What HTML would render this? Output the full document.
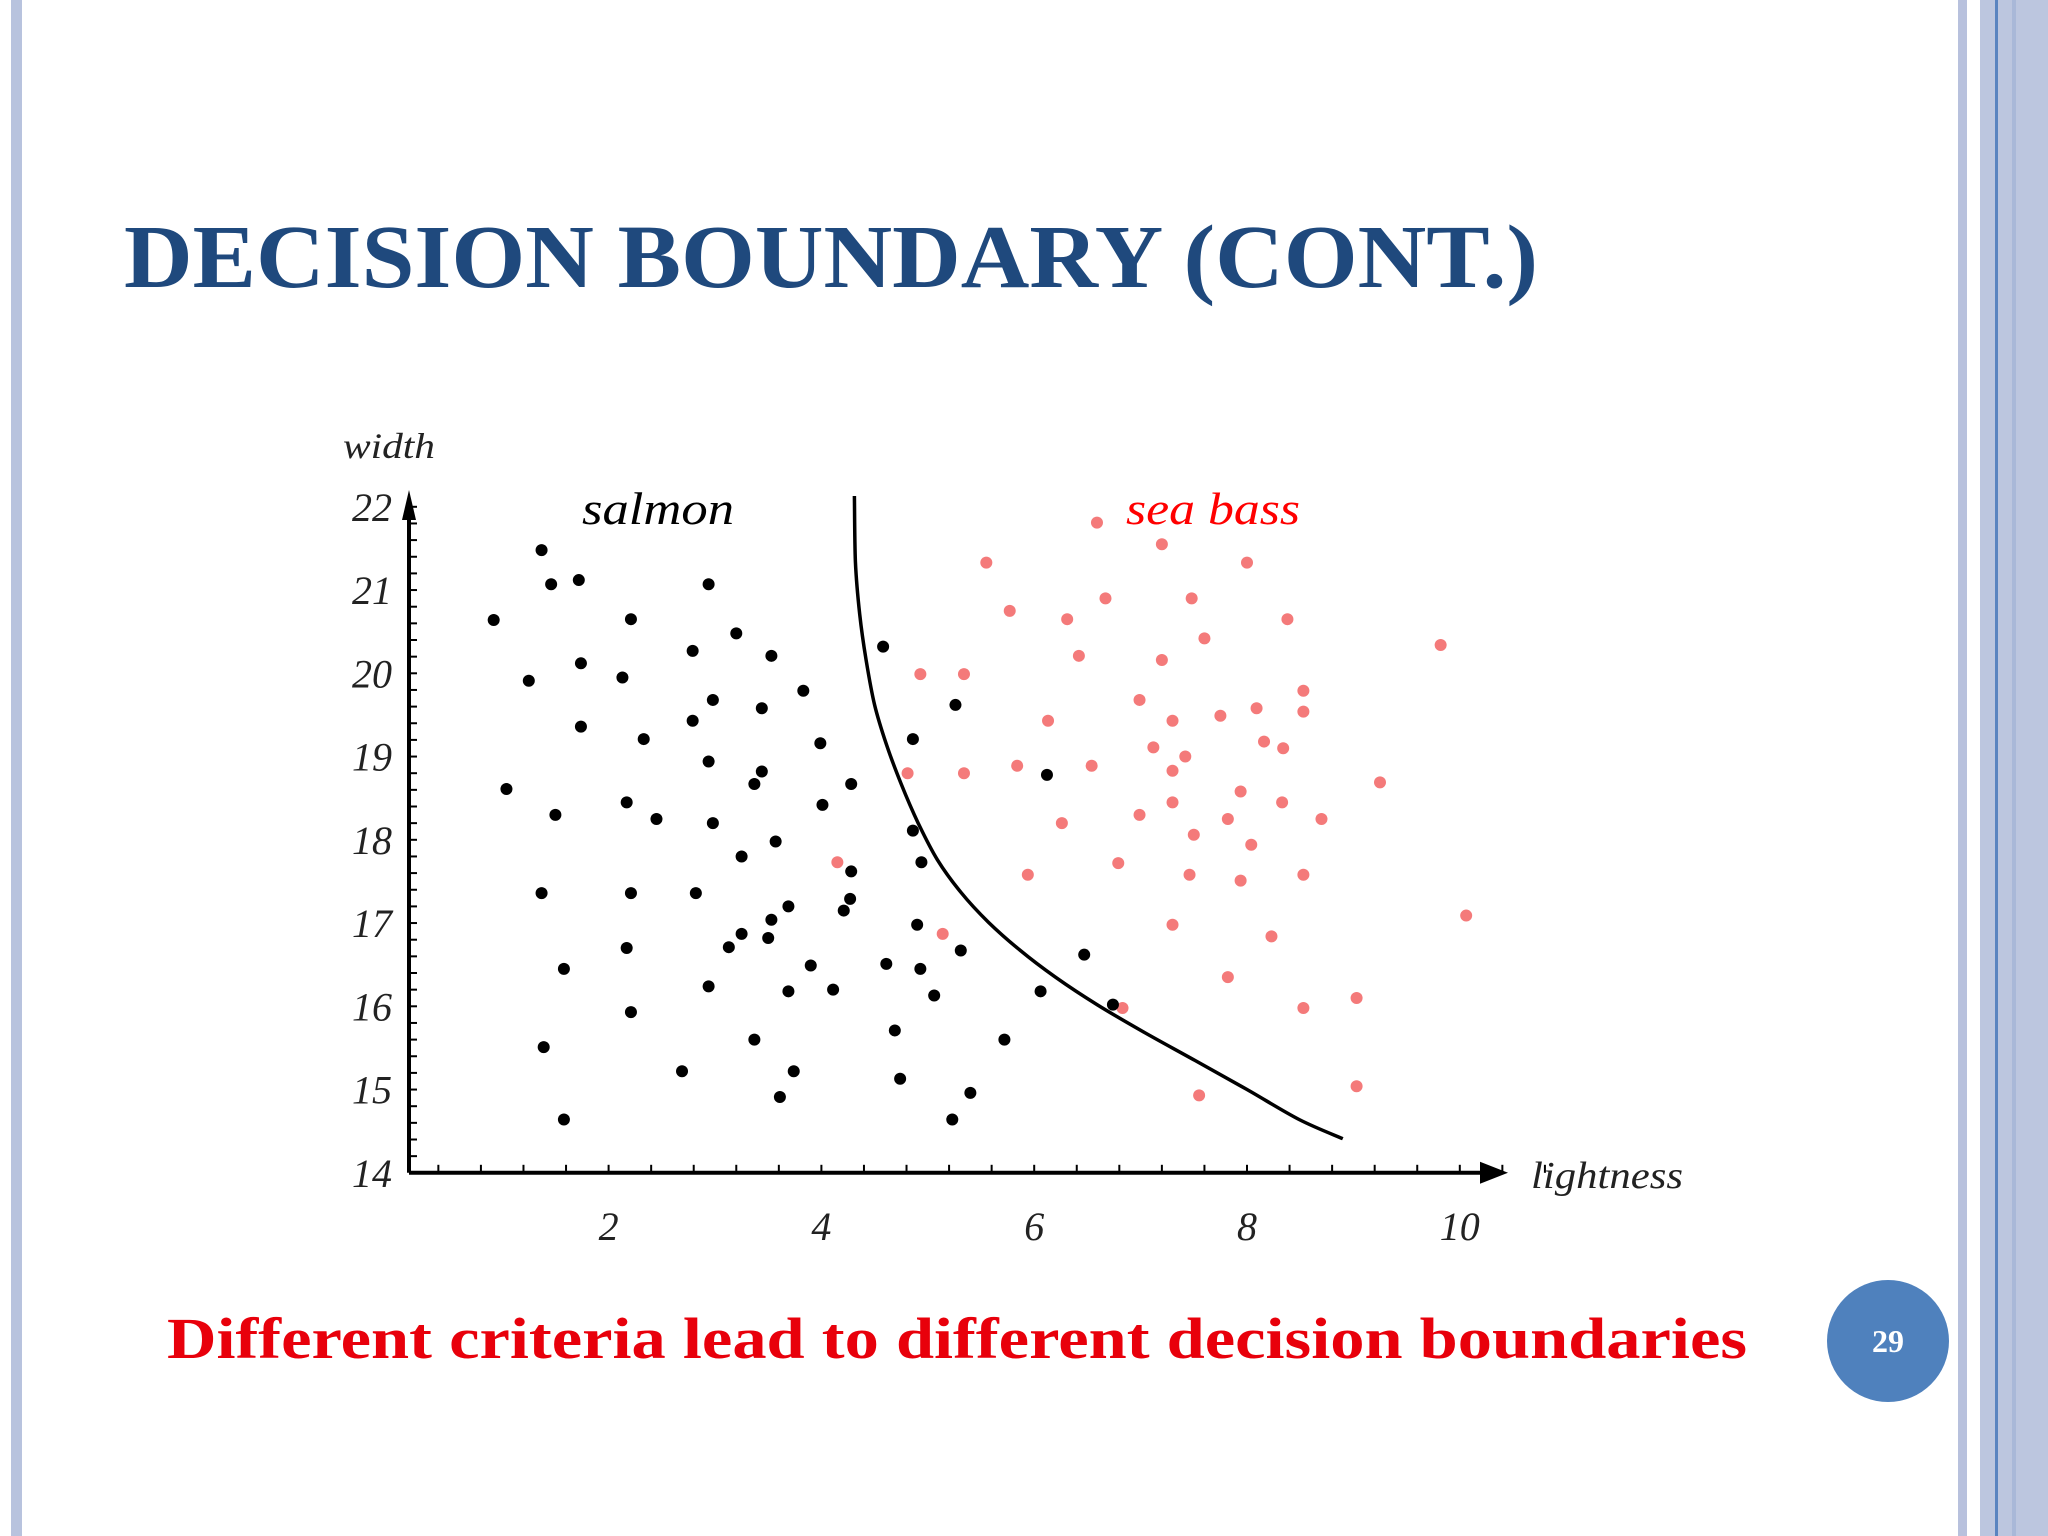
<!DOCTYPE html>
<html><head><meta charset="utf-8"><style>
html,body{margin:0;padding:0;background:#fff}
svg{display:block}
</style></head><body>
<svg id="slide" width="2048" height="1536" viewBox="0 0 2048 1536" xmlns="http://www.w3.org/2000/svg">
<rect x="0" y="0" width="2048" height="1536" fill="#fff"/>
<rect x="11" y="0" width="11" height="1536" fill="#b8c3de"/>
<rect x="1958" y="0" width="9" height="1536" fill="#b8c1dd"/>
<rect x="1980" y="0" width="68" height="1536" fill="#bcc6df"/>
<rect x="1995" y="0" width="3" height="1536" fill="#5a84c0"/>
<rect x="2012" y="0" width="4" height="1536" fill="#a9b8d8"/>
<text x="124" y="287" font-family="Liberation Serif, serif" font-weight="bold" font-size="90" fill="#1f497d" textLength="1414" lengthAdjust="spacingAndGlyphs">DECISION BOUNDARY (CONT.)</text>
<g id="chart"></g>
<text x="167" y="1358" font-family="Liberation Serif, serif" font-weight="bold" font-size="58" fill="#e8000b" textLength="1580" lengthAdjust="spacingAndGlyphs">Different criteria lead to different decision boundaries</text>
<circle cx="1888" cy="1341" r="61" fill="#4f81bd"/>
<text x="1888" y="1352" text-anchor="middle" font-family="Liberation Serif, serif" font-weight="bold" font-size="32" fill="#fff">29</text>
</svg>
<script>
const salmonX=[1.37,1.46,1.72,0.92,2.21,1.25,1.74,2.13,2.79,3.20,3.53,2.94,2.98,2.79,3.44,3.83,1.74,2.33,2.94,3.44,3.37,3.99,1.04,2.17,2.45,2.98,4.01,4.28,1.50,3.57,3.25,1.37,2.21,2.82,4.28,4.21,4.27,2.17,3.13,3.25,3.50,3.53,3.69,1.58,2.94,3.90,3.69,4.11,4.61,4.93,5.06,4.58,4.86,5.26,4.86,4.94,4.90,5.31,2.21,3.37,1.39,2.69,3.74,3.61,4.69,4.74,5.40,5.23,1.58,5.72,6.06,6.12,6.47,6.74];
const salmonY=[21.48,21.07,21.12,20.64,20.65,19.91,20.12,19.95,20.27,20.48,20.21,21.07,19.68,19.43,19.58,19.79,19.36,19.21,18.94,18.82,18.67,19.16,18.61,18.45,18.25,18.20,18.42,18.67,18.30,17.98,17.80,17.36,17.36,17.36,17.62,17.15,17.29,16.70,16.71,16.87,16.82,17.04,17.20,16.45,16.24,16.49,16.18,16.20,16.51,16.45,16.13,20.32,19.21,19.62,18.11,17.73,16.98,16.67,15.93,15.60,15.51,15.22,15.22,14.91,15.71,15.13,14.96,14.64,14.64,15.60,16.18,18.78,16.62,16.02];
const bassX=[6.59,5.55,7.20,8.00,5.77,6.31,6.67,7.48,8.38,7.60,6.42,7.20,9.82,4.93,5.34,8.53,6.99,6.13,7.30,7.75,8.09,8.53,8.16,8.34,7.12,7.42,7.30,5.84,6.54,5.34,4.81,9.25,7.94,6.26,7.30,8.33,6.99,7.82,8.70,7.50,8.04,4.15,5.94,6.79,7.46,7.94,8.53,7.30,8.23,5.14,10.06,7.82,6.83,8.53,9.03,9.03,7.55];
const bassY=[21.81,21.33,21.55,21.33,20.75,20.65,20.90,20.90,20.65,20.42,20.21,20.16,20.34,19.99,19.99,19.79,19.68,19.43,19.43,19.49,19.58,19.54,19.18,19.10,19.11,19.00,18.83,18.89,18.89,18.80,18.80,18.69,18.58,18.20,18.45,18.45,18.30,18.25,18.25,18.06,17.94,17.73,17.58,17.72,17.58,17.51,17.58,16.98,16.84,16.87,17.09,16.35,15.98,15.98,16.10,15.04,14.93];
const boundaryX=[4.31,4.32,4.36,4.42,4.50,4.61,4.75,4.91,5.09,5.31,5.57,5.87,6.20,6.59,7.03,7.51,8.00,8.49,8.90];
const boundaryY=[22.13,21.34,20.71,20.16,19.62,19.15,18.67,18.20,17.76,17.37,17.01,16.67,16.35,16.02,15.69,15.35,15.00,14.64,14.41];
const xTickLabels=[2,4,6,8,10];
const yTickLabels=[14,15,16,17,18,19,20,21,22];

const NS='http://www.w3.org/2000/svg';
const g=document.getElementById('chart');
function X(v){return 395.8+v*106.4;}
function Y(v){return 506.8+(22-v)*83.25;}
function mk(tag,attrs){const e=document.createElementNS(NS,tag);for(const k in attrs)e.setAttribute(k,attrs[k]);g.appendChild(e);return e;}
const axisX=409, axisY=Y(14);
let e=mk('line',{x1:axisX,y1:axisY,x2:1490,y2:axisY,stroke:'#000','stroke-width':4});


e=mk('polygon',{points:`1480,${axisY-11} 1508,${axisY} 1480,${axisY+11}`,fill:'#000'});


e=mk('line',{x1:axisX,y1:axisY,x2:axisX,y2:505,stroke:'#000','stroke-width':4});


e=mk('polygon',{points:`${axisX-7},${520} ${axisX},${490} ${axisX+7},${520}`,fill:'#000'});


for(let v=0.4;v<10.9;v+=0.4){
  e=mk('line',{x1:X(v),y1:axisY,x2:X(v),y2:axisY-8,stroke:'#000','stroke-width':2});
  
  
}
for(let v=14.2;v<22.01;v+=0.2){
  e=mk('line',{x1:axisX,y1:Y(v),x2:axisX+8,y2:Y(v),stroke:'#000','stroke-width':2});
  
  
}
const tf='Liberation Serif, serif';
xTickLabels.forEach(v=>{
  const t=mk('text',{x:X(v),y:1240,'text-anchor':'middle','font-family':tf,'font-style':'italic','font-size':40,fill:'#222'});
  t.textContent=v;
  
  
});
yTickLabels.forEach(v=>{
  const t=mk('text',{x:392,y:Y(v)+14,'text-anchor':'end','font-family':tf,'font-style':'italic','font-size':40,fill:'#222'});
  t.textContent=v;
  
  
});
let t=mk('text',{x:343,y:458,'font-family':tf,'font-style':'italic','font-size':36,fill:'#222',textLength:92,lengthAdjust:'spacingAndGlyphs'});
t.textContent='width';


t=mk('text',{x:1531,y:1188,'font-family':tf,'font-style':'italic','font-size':38,fill:'#222',textLength:152,lengthAdjust:'spacingAndGlyphs'});
t.textContent='lightness';


t=mk('text',{x:582,y:524,'font-family':tf,'font-style':'italic','font-size':46,fill:'#000',textLength:152,lengthAdjust:'spacingAndGlyphs'});
t.textContent='salmon';


t=mk('text',{x:1126,y:524,'font-family':tf,'font-style':'italic','font-size':46,fill:'#f00',textLength:174,lengthAdjust:'spacingAndGlyphs'});
t.textContent='sea bass';


const P=boundaryX.map((v,i)=>[X(v),Y(boundaryY[i])]);
let d='M'+P[0][0].toFixed(1)+','+P[0][1].toFixed(1);
for(let i=0;i<P.length-1;i++){
  const p0=P[Math.max(i-1,0)],p1=P[i],p2=P[i+1],p3=P[Math.min(i+2,P.length-1)];
  const c1=[p1[0]+(p2[0]-p0[0])/6,p1[1]+(p2[1]-p0[1])/6];
  const c2=[p2[0]-(p3[0]-p1[0])/6,p2[1]-(p3[1]-p1[1])/6];
  d+='C'+c1.map(n=>n.toFixed(1)).join(',')+' '+c2.map(n=>n.toFixed(1)).join(',')+' '+p2.map(n=>n.toFixed(1)).join(',');
}
e=mk('path',{d:d,fill:'none',stroke:'#000','stroke-width':3.5,'stroke-linejoin':'round'});


bassX.forEach((v,i)=>{
  const c=mk('circle',{cx:X(v),cy:Y(bassY[i]),r:6,fill:'#f47a7a'});
  
  
});
salmonX.forEach((v,i)=>{
  const c=mk('circle',{cx:X(v),cy:Y(salmonY[i]),r:6,fill:'#000'});
  
  
});
</script>
</body></html>
